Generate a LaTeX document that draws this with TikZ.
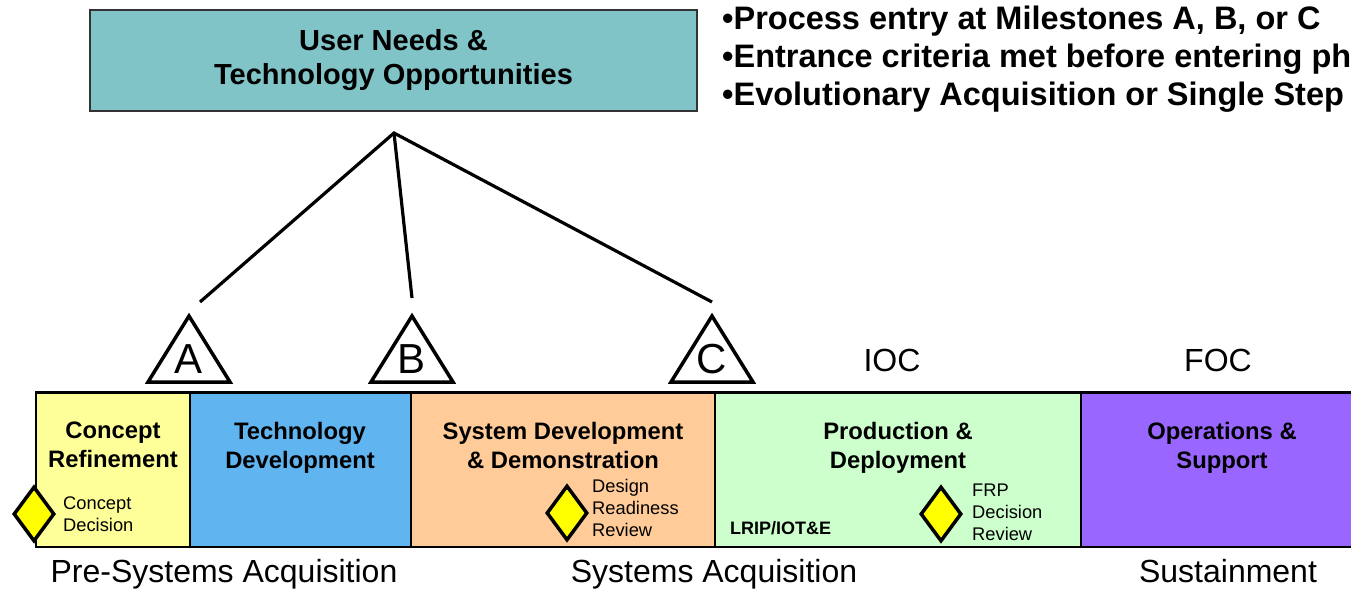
\documentclass[tikz,border=0pt]{standalone}
\usepackage{fontspec}
\setmainfont{Liberation Sans}
\usetikzlibrary{shapes.geometric}

\definecolor{needsteal}{HTML}{80C4C8}
\definecolor{cryellow}{HTML}{FFFF99}
\definecolor{tdblue}{HTML}{60B4F0}
\definecolor{sddorange}{HTML}{FFCC99}
\definecolor{pdgreen}{HTML}{CCFFCC}
\definecolor{ospurple}{HTML}{9966FF}
\definecolor{msyellow}{HTML}{FFFF00}

\tikzset{
  phase/.style={draw=black, line width=1.5pt, minimum height=154pt, inner sep=0pt},
  phasetitle/.style={align=center, anchor=north, inner sep=0pt, font=\bfseries\fontsize{23.8}{29}\selectfont},
  decision/.style={diamond, draw=black, fill=msyellow, line width=3.5pt, minimum width=41pt, minimum height=55pt, inner sep=0pt},
  note/.style={align=left, anchor=west, inner sep=0pt, font=\fontsize{18.3}{22}\selectfont},
  gate/.style={draw=black, line width=3.5pt, line join=miter},
  gatelabel/.style={inner sep=0pt, font=\fontsize{42}{42}\selectfont},
  link/.style={draw=black, line width=3.2pt},
  eventlabel/.style={inner sep=0pt, anchor=base, font=\fontsize{32}{32}\selectfont},
}

\begin{document}
\begin{tikzpicture}[x=1pt,y=-1pt]
\useasboundingbox (0,0) rectangle (1351,590);
% top box and entry notes
\node[draw=black!80, line width=1.5pt, fill=needsteal, minimum width=607pt, minimum height=101pt,
  align=center, font=\bfseries\fontsize{29}{34}\selectfont] (needs) at (393.5,60.5)
  {User Needs \&\\Technology Opportunities};
\node[anchor=west, align=left, inner sep=0pt, font=\bfseries\fontsize{32.5}{38}\selectfont] (entry) at (722,59)
  {•Process entry at Milestones A, B, or C\\•Entrance criteria met before entering ph\\•Evolutionary Acquisition or Single Step};
% links to the milestones
\coordinate (hub) at (394,133);
\coordinate (toA) at (200,302);
\coordinate (toB) at (412,298);
\coordinate (toC) at (712,302);
\draw[link] (toA) -- (hub) -- (toC);
\draw[link] (hub) -- (toB);
% phases
\node[phase, fill=cryellow, minimum width=154pt] (cr) at (113,470) {};
\node[phase, fill=tdblue, minimum width=221pt] (td) at (300.5,470) {};
\node[phase, fill=sddorange, minimum width=304pt] (sdd) at (563,470) {};
\node[phase, fill=pdgreen, minimum width=366pt] (pd) at (898,470) {};
\node[phase, fill=ospurple, minimum width=300pt] (os) at (1231,470) {};
\draw[line width=3pt] (cr.north west) -- (os.north east);
\node[phasetitle] (crtitle) at (113,422) {Concept\\Refinement};
\node[phasetitle] (tdtitle) at (300,422) {Technology\\Development};
\node[phasetitle] (sddtitle) at (563,422) {System Development\\\& Demonstration};
\node[phasetitle] (pdtitle) at (898,422) {Production \&\\Deployment};
\node[phasetitle] (ostitle) at (1222,422) {Operations \&\\Support};
% decision points
\node[decision] (cd) at (34,514) {};
\node[note] (cdnote) at (63,514) {Concept\\Decision};
\node[decision] (drr) at (567,513) {};
\node[note] (drrnote) at (592,508) {Design\\Readiness\\Review};
\node[decision] (frp) at (941,514) {};
\node[note] (frpnote) at (972,512) {FRP\\Decision\\Review};
\node[anchor=west, inner sep=0pt, font=\bfseries\fontsize{18}{18}\selectfont] (lrip) at (730,528) {LRIP/IOT\&E};
% milestones
\foreach \x/\l in {189/A, 412/B, 712/C} {
  \draw[gate] (\x,316) -- ++(41,66) -- ++(-82,0) -- cycle;
  \node[gatelabel] (ms\l) at (\x,359) {\l};
}
\node[eventlabel] (ioc) at (892,371) {IOC};
\node[eventlabel] (foc) at (1218,371) {FOC};
% acquisition stages
\node[eventlabel] (pre) at (224,582) {Pre-Systems Acquisition};
\node[eventlabel] (sys) at (714,582) {Systems Acquisition};
\node[eventlabel] (sus) at (1228,582) {Sustainment};
\end{tikzpicture}
\end{document}
